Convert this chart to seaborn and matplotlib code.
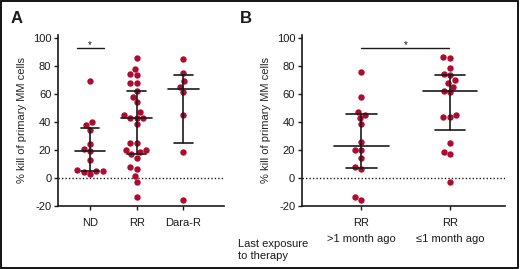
import numpy as np
import pandas as pd
import seaborn as sns
import matplotlib.pyplot as plt
from matplotlib.patches import Rectangle
import matplotlib.transforms as mtransforms

# values (% kill of primary MM cells)
nd = [69.4, 40.2, 37.8, 34.2, 24.0, 20.9, 19.2, 12.7, 6.0, 5.3, 5.0, 4.0, 2.9]
rr = [86.0, 77.9, 74.2, 73.5, 68.0, 68.0, 62.2, 57.8, 54.2, 47.0, 45.3, 43.1,
      43.0, 43.0, 38.3, 25.3, 25.3, 20.0, 20.0, 18.5, 17.3, 14.5, 7.7, 6.7,
      1.2, -3.2, -13.7]
dara_r = [85.5, 75.4, 69.4, 65.5, 61.4, 45.0, 18.5, -15.7]
rr_late = [75.6, 58.3, 47.4, 45.3, 42.9, 38.5, 25.7, 20.0, 20.0, 14.5, 7.7,
           6.7, -13.7, -15.7]
rr_recent = [86.7, 86.3, 78.8, 74.7, 73.5, 69.9, 68.4, 65.5, 62.6, 61.4, 44.8,
             43.4, 43.4, 25.3, 18.5, 17.1, -3.2]

groups_a = ["ND", "RR", "Dara-R"]
groups_b = [">1 month ago", "\u22641 month ago"]
ticks_b = ["RR", "RR"]

red = "#B00A2E"
ink = "#1a1a1a"

sns.set_style("ticks")
plt.rcParams["font.family"] = ["Liberation Sans", "DejaVu Sans"]
plt.rcParams["text.color"] = ink
plt.rcParams["axes.unicode_minus"] = False

df_a = pd.DataFrame({"group": np.repeat(groups_a, [len(nd), len(rr), len(dara_r)]),
                     "kill": nd + rr + dara_r})
df_b = pd.DataFrame({"group": np.repeat(groups_b, [len(rr_late), len(rr_recent)]),
                     "kill": rr_late + rr_recent})

fig = plt.figure(figsize=(5.2, 2.69), dpi=100)
ax_a = fig.add_axes([0.112, 0.235, 0.319, 0.635])
ax_b = fig.add_axes([0.581, 0.235, 0.390, 0.635])


def draw_panel(ax, df, order, med_w, q_w):
    sns.swarmplot(data=df, x="group", y="kill", order=order, color=red,
                  size=4.6, ax=ax, zorder=2)
    for i, g in enumerate(order):
        v = df.loc[df.group == g, "kill"].values
        med = np.median(v)
        q1, q3 = np.percentile(v, [25, 75], method="weibull")
        ax.plot([i - med_w, i + med_w], [med, med], color=ink, lw=1.2, zorder=3)
        ax.plot([i - q_w, i + q_w], [q1, q1], color=ink, lw=1.2, zorder=3)
        ax.plot([i - q_w, i + q_w], [q3, q3], color=ink, lw=1.2, zorder=3)
        ax.plot([i, i], [q1, q3], color=ink, lw=1.2, zorder=3)
    ax.axhline(0, color=ink, lw=1.0, ls=(0, (1, 1.5)), zorder=1)
    ax.set_ylim(-20, 102.5)
    ax.set_yticks([-20, 0, 20, 40, 60, 80, 100])
    ax.set_ylabel("% kill of primary MM cells", fontsize=8, labelpad=4)
    ax.set_xlabel("")
    ax.tick_params(axis="both", labelsize=8, length=3, width=1, colors=ink, pad=2)
    ax.tick_params(axis="x", pad=6)
    for s in ["left", "bottom"]:
        ax.spines[s].set_linewidth(1.2)
        ax.spines[s].set_color(ink)
    sns.despine(ax=ax)


draw_panel(ax_a, df_a, groups_a, 0.33, 0.2)
ax_a.set_xlim(-0.68, 2.87)

draw_panel(ax_b, df_b, groups_b, 0.31, 0.17)
ax_b.set_xlim(-0.67, 1.62)
ax_b.set_xticks([0, 1])
ax_b.set_xticklabels(ticks_b)
trans_b = mtransforms.blended_transform_factory(ax_b.transData, ax_b.transAxes)
for i, g in enumerate(groups_b):
    ax_b.text(i, -0.195, g, transform=trans_b, ha="center", va="center", fontsize=8)

# significance markers
ax_a.plot([-0.28, 0.3], [92.8, 92.8], color=ink, lw=1.0)
ax_a.text(0.0, 95.5, "*", ha="center", va="center", fontsize=7)
ax_b.plot([0.0, 0.99], [92.8, 92.8], color=ink, lw=1.0)
ax_b.text(0.5, 95.5, "*", ha="center", va="center", fontsize=7)

fig.text(0.458, 0.111, "Last exposure\nto therapy", ha="left", va="top",
         fontsize=8, linespacing=1.25)
fig.text(0.02, 0.93, "A", fontsize=12, fontweight="bold", va="center")
fig.text(0.462, 0.93, "B", fontsize=12, fontweight="bold", va="center")

fig.patches.append(Rectangle((0.002, 0.003), 0.995, 0.993, transform=fig.transFigure,
                             fill=False, edgecolor="black", lw=1.3))

fig.savefig("out.png", dpi=100)
